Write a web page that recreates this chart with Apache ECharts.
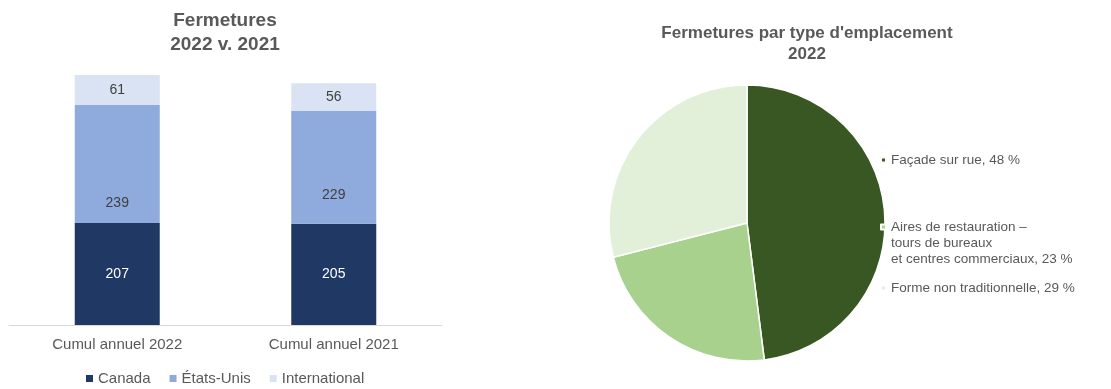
<!DOCTYPE html>
<html>
<head>
<meta charset="utf-8">
<script src="https://cdn.jsdelivr.net/npm/echarts@6/dist/echarts.min.js"></script>
<style>
html, body { margin: 0; padding: 0; background: #fff; }
#chart { width: 1111px; height: 389px; }
</style>
</head>
<body>
<div id="chart"></div>
<script>
// fermetures par période
var periods = ['Cumul annuel 2022', 'Cumul annuel 2021'];
var canada = [207, 205];
var etatsUnis = [239, 229];
var international = [61, 56];

// fermetures par type d'emplacement, 2022 (%)
var locationTypes = [
  'Façade sur rue',
  'Aires de restauration –\ntours de bureaux\net centres commerciaux',
  'Forme non traditionnelle'
];
var locationShares = [48, 23, 29];

var blues = ['#1f3864', '#8faadc', '#dae3f3'];
var greens = ['#385723', '#a9d18e', '#e2f0d9'];
var grey = '#595959';
var font = 'Liberation Sans, Arial, sans-serif';

// les étiquettes des États-Unis sont plus bas que le centre dans l'original
var usLabelShift = [39, 28];

function shareOf(name) {
  return locationShares[locationTypes.indexOf(name)];
}

// le marqueur est aligné sur la première ligne : on ajoute des lignes vides avant
function pieLegend(i, top) {
  var extra = locationTypes[i].split('\n').length - 1;
  return {
    data: [locationTypes[i]],
    orient: 'vertical',
    left: 880,
    top: top,
    padding: 0,
    icon: 'rect',
    itemWidth: 5,
    itemHeight: 5,
    selectedMode: false,
    formatter: function (name) {
      return new Array(extra + 1).join('\n') + name + ', ' + shareOf(name) + ' %';
    },
    textStyle: {
      color: grey,
      fontSize: 13.5,
      fontFamily: font,
      lineHeight: 16
    }
  };
}

var chart = echarts.init(document.getElementById('chart'));

var option = {
  animation: false,
  title: [
    {
      text: 'Fermetures\n2022 v. 2021',
      left: 225,
      top: 9,
      padding: 0,
      textAlign: 'center',
      textStyle: { color: grey, fontSize: 19, fontWeight: 'bold', fontFamily: font, lineHeight: 24 }
    },
    {
      text: "Fermetures par type d'emplacement\n2022",
      left: 807,
      top: 23,
      padding: 0,
      textAlign: 'center',
      textStyle: { color: grey, fontSize: 17, fontWeight: 'bold', fontFamily: font, lineHeight: 21 }
    }
  ],
  legend: [
    {
      data: ['Canada', 'États-Unis', 'International'],
      left: 86,
      top: 371,
      padding: 0,
      icon: 'rect',
      itemWidth: 7,
      itemHeight: 7,
      itemGap: 19,
      selectedMode: false,
      textStyle: { color: grey, fontSize: 15, fontFamily: font }
    },
    pieLegend(0, 152),
    pieLegend(1, 187),
    pieLegend(2, 280)
  ],
  grid: { left: 9, width: 433, top: 29, bottom: 64 },
  xAxis: {
    type: 'category',
    data: periods,
    axisLine: { lineStyle: { color: '#d9d9d9', width: 1 } },
    axisTick: { show: false },
    axisLabel: { color: grey, fontSize: 15, fontFamily: font, margin: 12 }
  },
  yAxis: {
    type: 'value',
    min: 0,
    max: 600,
    show: false,
    splitLine: { show: false }
  },
  series: [
    {
      name: 'Canada',
      type: 'bar',
      stack: 'total',
      barWidth: 85,
      data: canada,
      itemStyle: { color: blues[0] },
      label: { show: true, position: 'inside', color: '#fff', fontSize: 14, fontFamily: font }
    },
    {
      name: 'États-Unis',
      type: 'bar',
      stack: 'total',
      data: etatsUnis.map(function (v, i) {
        return { value: v, label: { offset: [0, usLabelShift[i]] } };
      }),
      itemStyle: { color: blues[1] },
      label: { show: true, position: 'inside', color: '#404040', fontSize: 14, fontFamily: font }
    },
    {
      name: 'International',
      type: 'bar',
      stack: 'total',
      data: international,
      itemStyle: { color: blues[2] },
      label: { show: true, position: 'inside', color: '#404040', fontSize: 14, fontFamily: font }
    },
    {
      name: 'Emplacement',
      type: 'pie',
      center: [747, 223],
      radius: 138,
      startAngle: 90,
      clockwise: true,
      label: { show: false },
      labelLine: { show: false },
      emphasis: { disabled: true },
      itemStyle: { borderColor: '#fff', borderWidth: 1.5 },
      data: locationTypes.map(function (name, i) {
        return { name: name, value: locationShares[i], itemStyle: { color: greens[i] } };
      })
    }
  ]
};

chart.setOption(option);
</script>
</body>
</html>
